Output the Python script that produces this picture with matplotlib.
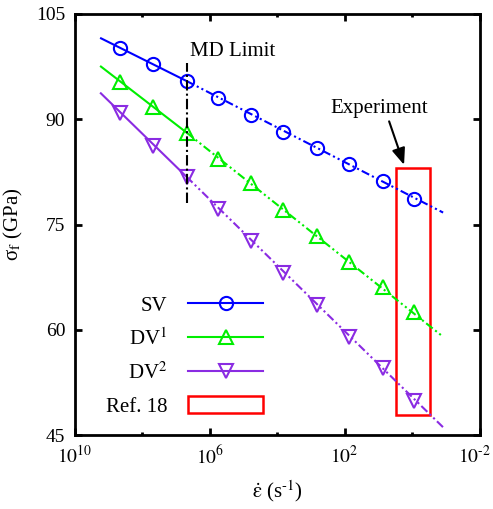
import matplotlib
matplotlib.use("Agg")
import matplotlib.pyplot as plt
import matplotlib.transforms as mtransforms
from matplotlib.patches import Rectangle
from matplotlib.lines import Line2D

plt.rcParams['font.family'] = ['Liberation Serif', 'DejaVu Serif']
plt.rcParams['mathtext.fontset'] = 'stix'

# ---- data ----
strain_rate = [4.6e8, 4.9e7, 4.9e6, 5.6e5, 6.2e4, 6.6e3, 6.7e2, 73, 7.4, 0.87]
sv = [100.2, 97.87, 95.45, 93.07, 90.65, 88.23, 85.95, 83.58, 81.2, 78.64]
dv1 = [95.35, 91.8, 88.1, 84.4, 80.85, 77.07, 73.4, 69.7, 66.1, 62.57]
dv2 = [90.9, 86.2, 81.8, 77.2, 72.7, 68.1, 63.5, 58.9, 54.5, 49.9]

# fit lines: start, MD limit, end
line_x = [1.8e9, 4.9e6, 0.12]
sv_line = [101.6, 95.45, 76.7]
dv1_line = [97.6, 88.1, 59.0]
dv2_line = [93.8, 81.8, 46.1]

md_limit_x = 4.9e6
md_limit_y = [78.0, 98.0]

exp_box_x = [3.0, 0.29]
exp_box_y = [47.85, 83.0]

series_names = ['SV', r'DV$^{1}$', r'DV$^{2}$']
ref_name = 'Ref. 18'

x_major_ticks = [1e10, 1e6, 1e2, 1e-2]
x_minor_ticks = [1e8, 1e4, 1e0]
x_tick_labels = [r'$10^{10}$', r'$10^{6}$', r'$10^{2}$', r'$10^{\text{-}2}$']
y_ticks = [45, 60, 75, 90, 105]

colors = ['#0000ff', '#00ee00', '#8a2be2']
markers = ['o', '^', 'v']

fig = plt.figure(figsize=(4.93, 5.09), dpi=100)
ax = fig.add_axes([75/493, 1-435/509, (479.5-75)/493, (435-14)/509])

ax.set_xscale('log')
ax.set_xlim(1e10, 1e-2)
ax.set_ylim(45, 105)

dashdotdot = (0, (4, 1.5, 1, 1.5, 1, 1.5))
for ys, yl, c, m in zip([sv, dv1, dv2], [sv_line, dv1_line, dv2_line], colors, markers):
    ax.plot(line_x[:2], yl[:2], color=c, lw=1.5, solid_capstyle='butt')
    ax.plot(line_x[1:], yl[1:], color=c, lw=1.5, linestyle=dashdotdot)
    ax.plot(strain_rate, ys, linestyle='none', marker=m, markersize=9.5,
            markerfacecolor='none', markeredgecolor=c, markeredgewidth=1.5)

ax.plot([md_limit_x, md_limit_x], md_limit_y, color='black', lw=1.5,
        linestyle=(0, (5, 1.5, 1, 1.5)))
ax.text(3.9e6, 99.6, 'MD Limit', fontsize=15, ha='left', va='center')

ax.add_patch(Rectangle((exp_box_x[0], exp_box_y[0]), exp_box_x[1]-exp_box_x[0],
                       exp_box_y[1]-exp_box_y[0], fill=False, edgecolor='#ff0000', lw=1.8))
ax.text(9.5, 91.5, 'Experiment', fontsize=15, ha='center', va='center')
ax.annotate('', xy=(1.73, 83.5), xytext=(4.8, 89.7),
            arrowprops=dict(arrowstyle='-|>,head_length=1.0,head_width=0.4',
                            color='black', lw=1.5, shrinkA=0, shrinkB=0))

ax.set_xticks(x_major_ticks)
ax.set_xticklabels(x_tick_labels)
ax.set_xticks(x_minor_ticks, minor=True)
ax.set_xticklabels([], minor=True)
ax.set_yticks(y_ticks)
ax.tick_params(which='major', direction='in', length=5, width=2, top=True, right=True,
               labelsize=14, pad=7)
ax.tick_params(which='minor', direction='in', length=2.5, width=2, top=True, right=True)
ax.tick_params(axis='y', which='minor', left=False, right=False)
for s in ax.spines.values():
    s.set_linewidth(2)

# nudge the last x tick label so it stays inside the canvas
last_lbl = ax.get_xticklabels()[-1]
last_lbl.set_transform(last_lbl.get_transform() +
                       mtransforms.ScaledTranslation(-5/100, 0, fig.dpi_scale_trans))

ax.set_xlabel(r'$\dot{\mathrm{\varepsilon}}$ (s$^{\text{-}1}$)', fontsize=15, labelpad=8)
ax.set_ylabel('σ$_{\\mathrm{f}}$ (GPa)', fontsize=15, labelpad=8)

handles = []
for c, m in zip(colors, markers):
    handles.append(Line2D([], [], color=c, lw=1.5, marker=m, markersize=9.5,
                          markerfacecolor='none', markeredgecolor=c, markeredgewidth=1.5))
handles.append(Rectangle((0, 0), 1, 1, fill=False, edgecolor='#ff0000', lw=1.8))
leg = fig.legend(handles, series_names + [ref_name], loc='center right',
                 bbox_to_anchor=(263/493, 1-356/509), frameon=False, markerfirst=False,
                 fontsize=15, handlelength=3.6, handletextpad=1.0, borderpad=0,
                 borderaxespad=0, labelspacing=0.6, handleheight=0.85)

fig.savefig('out.png', dpi=100)
